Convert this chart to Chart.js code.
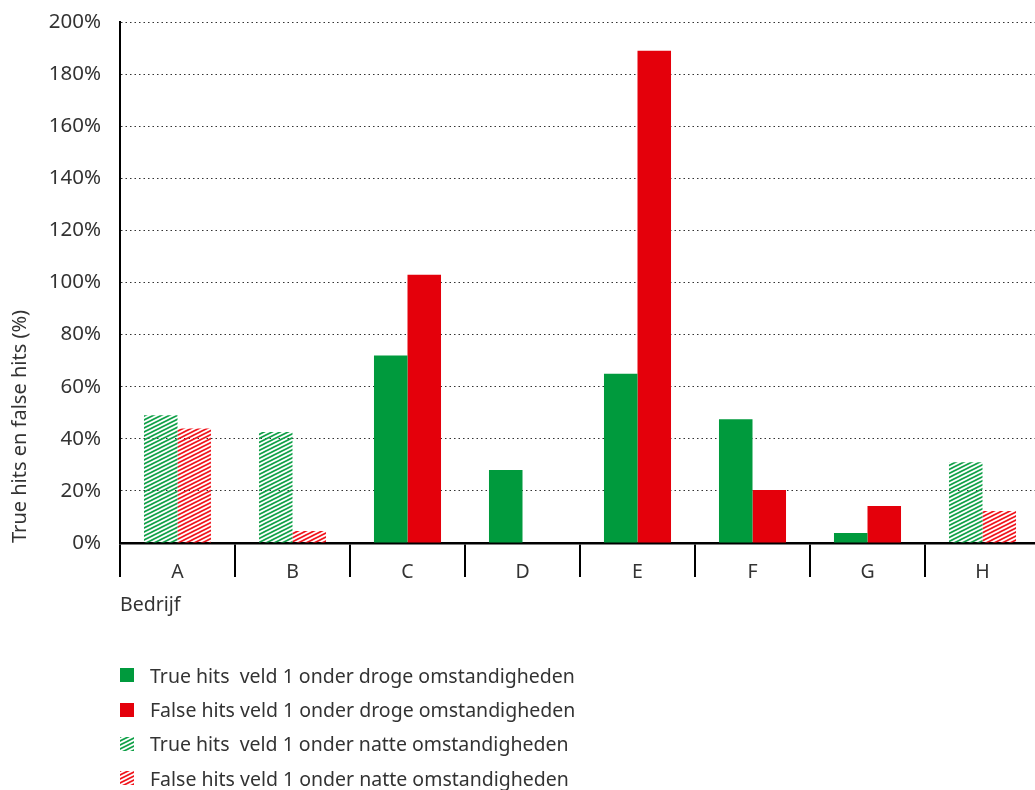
<!DOCTYPE html>
<html><head><meta charset="utf-8">
<script src="https://cdn.jsdelivr.net/npm/chart.js@4/dist/chart.umd.min.js"></script>
<style>
html,body{margin:0;padding:0;background:#fff;overflow:hidden;width:1035px;height:790px;}
#wrap{position:relative;width:1041px;height:790px;}
#c{display:block;}
#legend{position:absolute;left:120px;top:658px;font-family:"Noto Sans",sans-serif;font-size:19.5px;color:#333;}
.item{display:flex;align-items:center;height:34.4px;white-space:pre;}
.item canvas{width:14px;height:14px;margin-right:16px;display:block;}
</style></head>
<body>
<div id="wrap">
<canvas id="c" width="1041" height="790"></canvas>
<div id="legend"></div>
</div>
<script>
const categories = ['A','B','C','D','E','F','G','H'];
const trueDry  = [null, null, 72, 28, 65, 47.5, 3.8, null];
const falseDry = [null, null, 103, 0, 189, 20.3, 14.2, null];
const trueWet  = [49, 42.6, null, null, null, null, null, 31];
const falseWet = [44, 4.6, null, null, null, null, null, 12.3];
const seriesLabels = [
  'True hits  veld 1 onder droge omstandigheden',
  'False hits veld 1 onder droge omstandigheden',
  'True hits  veld 1 onder natte omstandigheden',
  'False hits veld 1 onder natte omstandigheden'
];
const yTicks = [0,20,40,60,80,100,120,140,160,180,200];

const GREEN = '#009a3d', RED = '#e4000b', GREEN_H = '#10a048', RED_H = '#f0141c';
const FONT = '"Noto Sans", sans-serif';

function hatchTile(color){
  const w = 8, h = 4;
  const t = document.createElement('canvas');
  t.width = w; t.height = h;
  const g = t.getContext('2d');
  g.strokeStyle = color; g.lineWidth = 1.7;
  for (const k of [-1,0,1]) {
    g.beginPath();
    g.moveTo(-2, h + 1 + k*h);
    g.lineTo(w + 2, -1 + k*h);
    g.stroke();
  }
  return t;
}
const ctx0 = document.getElementById('c').getContext('2d');
const greenTile = hatchTile(GREEN_H), redTile = hatchTile(RED_H);
const greenHatch = ctx0.createPattern(greenTile,'repeat'), redHatch = ctx0.createPattern(redTile,'repeat');

const datasets = [
  {label: seriesLabels[0], data: trueDry,  stack:'t', backgroundColor: GREEN},
  {label: seriesLabels[1], data: falseDry, stack:'f', backgroundColor: RED},
  {label: seriesLabels[2], data: trueWet,  stack:'t', backgroundColor: greenHatch, _tile: greenTile},
  {label: seriesLabels[3], data: falseWet, stack:'f', backgroundColor: redHatch, _tile: redTile}
];
datasets.forEach(d => { d.categoryPercentage = 0.583; d.barPercentage = 1.0; d.borderWidth = 0; });

const chart = new Chart(document.getElementById('c'), {
  type: 'bar',
  data: { labels: categories, datasets },
  options: {
    responsive: false,
    animation: false,
    layout: { padding: { top: 22, right: 1, bottom: 173, left: 0 } },
    plugins: { legend: { display: false }, tooltip: { enabled: false } },
    scales: {
      x: {
        stacked: true,
        offset: true,
        grid: { offset: true, drawOnChartArea: false, drawTicks: true, tickLength: 34, color: '#000', lineWidth: 2 },
        border: { display: true, color: '#000', width: 2.5 },
        ticks: { color: '#333', font: { family: FONT, size: 19.5 }, padding: -16 },
        title: { display: true, text: 'Bedrijf', align: 'start', color: '#333', font: { family: FONT, size: 19.5 }, padding: 0 },
        afterFit: s => { s.height = 74; }
      },
      y: {
        stacked: true,
        min: 0, max: 200,
        afterBuildTicks: s => { s.ticks = yTicks.map(v => ({value: v})); },
        ticks: { color: '#333', font: { family: FONT, size: 20.5 }, padding: 19, callback: v => v + '%' },
        grid: { color: '#333', lineWidth: 1, drawTicks: false },
        border: { display: true, color: '#000', width: 2, dash: [1.5, 3] },
        title: { display: true, text: 'True hits en false hits (%)', align: 'start', color: '#333', font: { family: FONT, size: 20 }, padding: { top: 8, bottom: 0 } },
        afterFit: s => { s.width = 120; s.paddingTop = 10; s.paddingBottom = 10; }
      }
    }
  }
});

// HTML legend built from the datasets
const leg = document.getElementById('legend');
chart.data.datasets.forEach(ds => {
  const row = document.createElement('div'); row.className = 'item';
  const sw = document.createElement('canvas'); sw.width = 14; sw.height = 14;
  const g = sw.getContext('2d');
  g.fillStyle = ds._tile ? g.createPattern(ds._tile, 'repeat') : ds.backgroundColor;
  g.fillRect(0,0,14,14);
  const tx = document.createElement('span'); tx.textContent = ds.label;
  row.appendChild(sw); row.appendChild(tx); leg.appendChild(row);
});
</script>
</body></html>
